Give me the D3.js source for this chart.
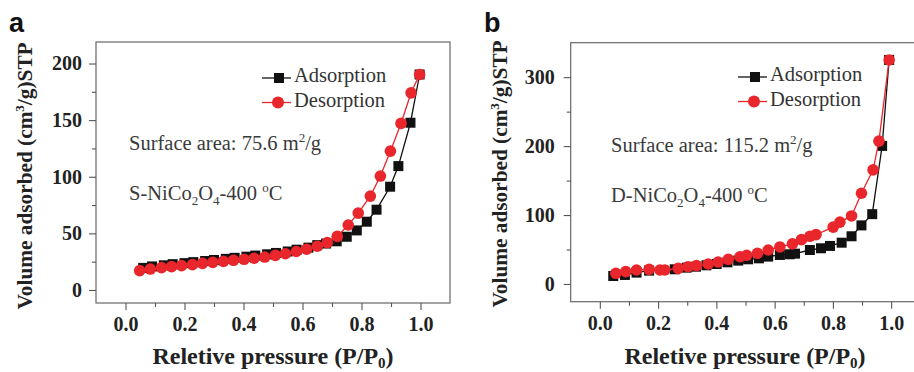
<!DOCTYPE html>
<html>
<head>
<meta charset="utf-8">
<script src="https://cdn.jsdelivr.net/npm/d3@7"></script>
<style>
  html, body { margin: 0; padding: 0; background: #ffffff; }
  svg { display: block; }
</style>
</head>
<body>
<svg id="chart" width="914" height="372"></svg>
<script>
// ---------------- DATA ----------------
const xMajorTicks = [0.0, 0.2, 0.4, 0.6, 0.8, 1.0];
const xMinorTicks = [0.1, 0.3, 0.5, 0.7, 0.9];
const xTickLabels = ["0.0", "0.2", "0.4", "0.6", "0.8", "1.0"];

// Panel a: S-NiCo2O4-400 °C
const aYMajorTicks = [0, 50, 100, 150, 200];
const aYMinorTicks = [25, 75, 125, 175];
const aAdsX = [0.06, 0.09, 0.13, 0.16, 0.20, 0.23, 0.27, 0.30, 0.34, 0.37, 0.41, 0.44, 0.48, 0.51, 0.55, 0.58, 0.62, 0.65, 0.68, 0.716, 0.75, 0.784, 0.818, 0.851, 0.897, 0.925, 0.966, 0.997];
const aAdsY = [19.5, 20.8, 21.8, 22.8, 23.7, 24.6, 25.6, 26.5, 27.5, 28.4, 29.4, 30.4, 31.5, 32.7, 34.0, 35.6, 37.4, 39.6, 41.0, 43.0, 47.0, 52.6, 60.3, 70.9, 91.2, 109.4, 147.7, 190.3];
const aDesX = [0.048, 0.084, 0.122, 0.156, 0.190, 0.227, 0.261, 0.296, 0.332, 0.366, 0.402, 0.436, 0.472, 0.508, 0.542, 0.579, 0.614, 0.650, 0.684, 0.718, 0.755, 0.789, 0.830, 0.864, 0.898, 0.934, 0.968, 0.997];
const aDesY = [17.1, 18.5, 19.7, 20.6, 21.5, 22.4, 23.5, 24.4, 25.3, 26.2, 27.1, 28.0, 29.1, 30.6, 32.0, 34.0, 36.0, 38.6, 41.9, 47.3, 57.4, 67.9, 82.9, 100.6, 122.6, 147.1, 174.1, 190.3];

// Panel b: D-NiCo2O4-400 °C
const bYMajorTicks = [0, 100, 200, 300];
const bYMinorTicks = [50, 150, 250];
const bAdsX = [0.046, 0.086, 0.126, 0.169, 0.217, 0.257, 0.298, 0.330, 0.366, 0.401, 0.438, 0.475, 0.509, 0.546, 0.578, 0.618, 0.652, 0.670, 0.721, 0.759, 0.790, 0.830, 0.864, 0.898, 0.935, 0.969, 0.993];
const bAdsY = [11.6, 13.1, 16.5, 19.4, 20.3, 21.3, 23.7, 25.1, 27.1, 29.0, 31.4, 33.9, 35.8, 37.2, 39.7, 42.1, 43.1, 44.0, 49.3, 51.8, 55.2, 59.9, 69.2, 85.0, 101.3, 200.3, 325.0];
const bDesX = [0.055, 0.089, 0.126, 0.169, 0.206, 0.223, 0.269, 0.303, 0.332, 0.372, 0.406, 0.441, 0.481, 0.504, 0.541, 0.578, 0.618, 0.661, 0.692, 0.721, 0.742, 0.801, 0.824, 0.864, 0.898, 0.938, 0.958, 0.993];
const bDesY = [15.5, 17.9, 20.3, 21.3, 20.3, 20.3, 22.7, 25.1, 26.6, 29.0, 31.9, 35.8, 39.5, 41.6, 44.5, 49.3, 53.7, 58.3, 64.3, 69.2, 71.6, 82.5, 89.7, 98.7, 131.6, 165.5, 207.2, 325.0];

// ---------------- DRAW ----------------
const svg = d3.select("#chart");
const SERIF = "'Liberation Serif', 'Times New Roman', serif";
const SANS = "'Liberation Sans', Arial, sans-serif";
const RED = "#e8262b";
const BLK = "#111111";

function zipXY(xs, ys) { return xs.map((x, i) => ({x: x, y: ys[i]})); }

function drawPanel(cfg) {
  const g = svg.append("g");
  const x = d3.scaleLinear().domain([-0.1, 1.1]).range([cfg.left, cfg.right]);
  const y = d3.scaleLinear().domain(cfg.yDomain).range([cfg.bottom, cfg.top]);

  // frame
  g.append("rect")
    .attr("x", cfg.left).attr("y", cfg.top)
    .attr("width", cfg.right - cfg.left).attr("height", cfg.bottom - cfg.top)
    .attr("fill", "none").attr("stroke", "#666").attr("stroke-width", 1.2);

  // x axis major
  const xAx = g.append("g").attr("transform", `translate(0,${cfg.bottom})`)
    .call(d3.axisBottom(x).tickValues(xMajorTicks).tickSize(7).tickPadding(7)
      .tickFormat((d, i) => xTickLabels[i]));
  xAx.select(".domain").remove();
  xAx.selectAll("line").attr("stroke", "#555").attr("stroke-width", 1.1);
  xAx.selectAll("text").attr("font-family", SERIF).attr("font-weight", "bold")
    .attr("font-size", 20).attr("fill", "#222");
  const xMin = g.append("g").attr("transform", `translate(0,${cfg.bottom})`)
    .call(d3.axisBottom(x).tickValues(xMinorTicks).tickSize(4).tickFormat(""));
  xMin.select(".domain").remove();
  xMin.selectAll("line").attr("stroke", "#555").attr("stroke-width", 1.1);

  // y axis major
  const yAx = g.append("g").attr("transform", `translate(${cfg.left},0)`)
    .call(d3.axisLeft(y).tickValues(cfg.yMajor).tickSize(7).tickPadding(cfg.yPad));
  yAx.select(".domain").remove();
  yAx.selectAll("line").attr("stroke", "#555").attr("stroke-width", 1.1);
  yAx.selectAll("text").attr("font-family", SERIF).attr("font-weight", "bold")
    .attr("font-size", 20).attr("fill", "#222");
  const yMin = g.append("g").attr("transform", `translate(${cfg.left},0)`)
    .call(d3.axisLeft(y).tickValues(cfg.yMinor).tickSize(4).tickFormat(""));
  yMin.select(".domain").remove();
  yMin.selectAll("line").attr("stroke", "#555").attr("stroke-width", 1.1);

  const line = d3.line().x(d => x(d.x)).y(d => y(d.y));
  const ads = zipXY(cfg.adsX, cfg.adsY);
  const des = zipXY(cfg.desX, cfg.desY);

  // adsorption
  g.append("path").datum(ads).attr("d", line)
    .attr("fill", "none").attr("stroke", BLK).attr("stroke-width", 1.3);
  g.selectAll(null).data(ads).enter().append("rect")
    .attr("x", d => x(d.x) - 5).attr("y", d => y(d.y) - 5)
    .attr("width", 10).attr("height", 10).attr("fill", BLK);

  // desorption
  g.append("path").datum(des).attr("d", line)
    .attr("fill", "none").attr("stroke", RED).attr("stroke-width", 1.3);
  g.selectAll(null).data(des).enter().append("circle")
    .attr("cx", d => x(d.x)).attr("cy", d => y(d.y)).attr("r", 5.8).attr("fill", RED);

  // legend
  const lg = g.append("g");
  const lx0 = cfg.legX, ly1 = cfg.legY, ly2 = cfg.legY + 24.5;
  lg.append("line").attr("x1", lx0).attr("x2", lx0 + 29).attr("y1", ly1).attr("y2", ly1)
    .attr("stroke", BLK).attr("stroke-width", 1.3);
  lg.append("rect").attr("x", lx0 + 17 - 5).attr("y", ly1 - 5).attr("width", 10).attr("height", 10).attr("fill", BLK);
  lg.append("line").attr("x1", lx0).attr("x2", lx0 + 29).attr("y1", ly2).attr("y2", ly2)
    .attr("stroke", RED).attr("stroke-width", 1.3);
  lg.append("circle").attr("cx", lx0 + 16).attr("cy", ly2).attr("r", 6).attr("fill", RED);
  lg.append("text").attr("x", lx0 + 32).attr("y", ly1 + 4).text("Adsorption")
    .attr("font-family", SERIF).attr("font-size", 20.5).attr("fill", "#333");
  lg.append("text").attr("x", lx0 + 32).attr("y", ly2 + 4).text("Desorption")
    .attr("font-family", SERIF).attr("font-size", 20.5).attr("fill", "#333");

  // annotations
  const t1 = g.append("text").attr("x", cfg.annX).attr("y", cfg.annY)
    .attr("font-family", SERIF).attr("font-size", 20.5).attr("fill", "#3a3a3a");
  t1.append("tspan").text(cfg.areaText + " m");
  t1.append("tspan").attr("font-size", 13).attr("dy", -8).text("2");
  t1.append("tspan").attr("dy", 8).text("/g");

  const t2 = g.append("text").attr("x", cfg.annX).attr("y", cfg.annY + 50)
    .attr("font-family", SERIF).attr("font-size", 20.5).attr("fill", "#3a3a3a");
  t2.append("tspan").text(cfg.sampleText);
  t2.append("tspan").attr("font-size", 13).attr("dy", 5).text("2");
  t2.append("tspan").attr("dy", -5).text("O");
  t2.append("tspan").attr("font-size", 13).attr("dy", 5).text("4");
  t2.append("tspan").attr("dy", -5).text("-400 ");
  t2.append("tspan").attr("font-size", 13).attr("dy", -8).text("o");
  t2.append("tspan").attr("dy", 8).text("C");

  // x title
  const xt = g.append("text").attr("x", cfg.xTitleX).attr("y", 364)
    .attr("text-anchor", "middle").attr("font-family", SERIF).attr("font-weight", "bold")
    .attr("font-size", 24).attr("fill", "#222");
  xt.append("tspan").text("Reletive pressure (P/P");
  xt.append("tspan").attr("font-size", 15).attr("dy", 4).text("0");
  xt.append("tspan").attr("dy", -4).text(")");

  // y title
  const yt = g.append("text")
    .attr("transform", `translate(${cfg.yTitleX},${cfg.yTitleY}) rotate(-90)`)
    .attr("text-anchor", "middle").attr("font-family", SERIF).attr("font-weight", "bold")
    .attr("font-size", 21.3).attr("fill", "#222");
  yt.append("tspan").text("Volume adsorbed (cm");
  yt.append("tspan").attr("font-size", 13).attr("dy", -8).text("3");
  yt.append("tspan").attr("dy", 8).text("/g)STP");

  // panel label
  svg.append("text").attr("x", cfg.labelX).attr("y", 32).text(cfg.label)
    .attr("font-family", SANS).attr("font-weight", "bold").attr("font-size", 27).attr("fill", "#111");
}

drawPanel({
  left: 96, right: 450, top: 42, bottom: 303, yDomain: [-11.5, 219],
  yMajor: aYMajorTicks, yMinor: aYMinorTicks, yPad: 7,
  adsX: aAdsX, adsY: aAdsY, desX: aDesX, desY: aDesY,
  legX: 262, legY: 78, annX: 129, annY: 150,
  areaText: "Surface area: 75.6", sampleText: "S-NiCo",
  xTitleX: 273, yTitleX: 32, yTitleY: 176, label: "a", labelX: 9
});
drawPanel({
  left: 570.7, right: 920.3, top: 42.7, bottom: 301.7, yDomain: [-25.7, 350],
  yMajor: bYMajorTicks, yMinor: bYMinorTicks, yPad: 9,
  adsX: bAdsX, adsY: bAdsY, desX: bDesX, desY: bDesY,
  legX: 738, legY: 77, annX: 611, annY: 152,
  areaText: "Surface area: 115.2", sampleText: "D-NiCo",
  xTitleX: 745, yTitleX: 507, yTitleY: 174, label: "b", labelX: 484
});
</script>
</body>
</html>
